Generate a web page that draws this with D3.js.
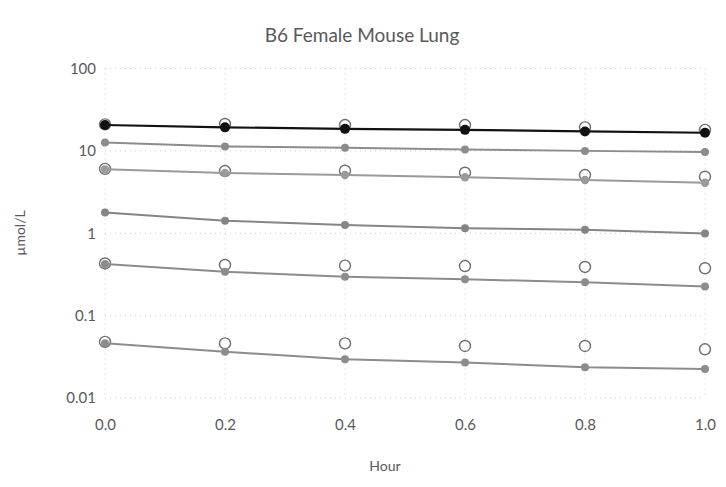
<!DOCTYPE html>
<html><head><meta charset="utf-8">
<script src="https://cdn.jsdelivr.net/npm/d3@7"></script>
<style>body{margin:0;background:#fff;} text{font-family:Lato,"Open Sans",sans-serif;}</style>
</head><body>
<svg id="chart" width="726" height="487"></svg>
<script>
const hours = [0.0, 0.2, 0.4, 0.6, 0.8, 1.0];
const xTickLabels = ["0.0","0.2","0.4","0.6","0.8","1.0"];
const yTickValues = [0.01, 0.1, 1, 10, 100];
const yTickLabels = ["0.01","0.1","1","10","100"];

// model (filled markers joined by lines)
const model1 = [20.6, 19.3, 18.5, 18.0, 17.2, 16.6];
const model2 = [12.6, 11.3, 10.9, 10.4, 10.0, 9.7];
const model3 = [5.97, 5.40, 5.09, 4.78, 4.43, 4.10];
const model4 = [1.78, 1.42, 1.26, 1.15, 1.10, 0.99];
const model5 = [0.423, 0.341, 0.297, 0.276, 0.254, 0.225];
const model6 = [0.0462, 0.0365, 0.0295, 0.0269, 0.0236, 0.0225];

// observed (open circles)
const obs1 = [21.0, 21.2, 20.6, 20.6, 19.3, 18.0];
const obs3 = [6.05, 5.69, 5.74, 5.43, 5.09, 4.86];
const obs5 = [0.43, 0.412, 0.404, 0.40, 0.39, 0.376];
const obs6 = [0.048, 0.046, 0.046, 0.0428, 0.0428, 0.039];

const modelSeries = [
  {vals: model1, color: "#111111", width: 2.2, r: 5},
  {vals: model2, color: "#8c8c8c", width: 2, r: 4},
  {vals: model3, color: "#9a9a9a", width: 2, r: 4.2},
  {vals: model4, color: "#858585", width: 2, r: 4},
  {vals: model5, color: "#8c8c8c", width: 2, r: 4},
  {vals: model6, color: "#8c8c8c", width: 2, r: 4}
];
const obsSeries = [obs1, obs3, obs5, obs6];

const svg = d3.select("#chart");
const x = d3.scaleLinear().domain([0, 1]).range([105, 705]);
const y = d3.scaleLog().domain([0.01, 100]).range([398, 68.5]);

// gridlines
const grid = svg.append("g");
grid.selectAll("line.h").data(yTickValues).join("line")
  .attr("x1", x(0)).attr("x2", x(1))
  .attr("y1", d => y(d)).attr("y2", d => y(d))
  .attr("stroke", "#cdcdcd").attr("stroke-width", 1).attr("stroke-dasharray", "1,4");
grid.selectAll("line.v").data(hours).join("line")
  .attr("x1", d => x(d)).attr("x2", d => x(d))
  .attr("y1", y(100)).attr("y2", y(0.01))
  .attr("stroke", "#cdcdcd").attr("stroke-width", 1).attr("stroke-dasharray", "1,4");

// axes via d3
const yAxis = d3.axisLeft(y).tickValues(yTickValues).tickFormat((d, i) => yTickLabels[i]).tickSize(0).tickPadding(9);
const gy = svg.append("g").attr("transform", `translate(${x(0)},0)`).call(yAxis);
gy.select(".domain").remove();
gy.selectAll("text").attr("font-size", 15).attr("fill", "#595959").style("font-family", "Lato, 'Open Sans', sans-serif");

const xAxis = d3.axisBottom(x).tickValues(hours).tickFormat((d, i) => xTickLabels[i]).tickSize(0).tickPadding(21);
const gx = svg.append("g").attr("transform", `translate(0,${y(0.01)})`).call(xAxis);
gx.select(".domain").remove();
gx.selectAll("text").attr("font-size", 15).attr("fill", "#595959").style("font-family", "Lato, 'Open Sans', sans-serif");

// open circles
obsSeries.forEach(vals => {
  svg.append("g").selectAll("circle").data(vals).join("circle")
    .attr("cx", (d, i) => x(hours[i])).attr("cy", d => y(d)).attr("r", 5.5)
    .attr("fill", "#ffffff").attr("stroke", "#6e6e6e").attr("stroke-width", 1.4);
});

// model lines and filled markers
const line = d3.line().x((d, i) => x(hours[i])).y(d => y(d));
modelSeries.forEach(s => {
  svg.append("path").datum(s.vals).attr("d", line)
    .attr("fill", "none").attr("stroke", s.color).attr("stroke-width", s.width);
  svg.append("g").selectAll("circle").data(s.vals).join("circle")
    .attr("cx", (d, i) => x(hours[i])).attr("cy", d => y(d)).attr("r", s.r)
    .attr("fill", s.color);
});

// title and axis titles
svg.append("text").attr("x", 362).attr("y", 42).attr("text-anchor", "middle")
  .attr("font-size", 19).attr("fill", "#595959").text("B6 Female Mouse Lung");
svg.append("text").attr("x", 385).attr("y", 471).attr("text-anchor", "middle")
  .attr("font-size", 14).attr("fill", "#595959").text("Hour");
svg.append("text").attr("transform", "translate(25,233) rotate(-90)").attr("text-anchor", "middle")
  .attr("font-size", 14).attr("fill", "#595959").text("µmol/L");
</script>
</body></html>
